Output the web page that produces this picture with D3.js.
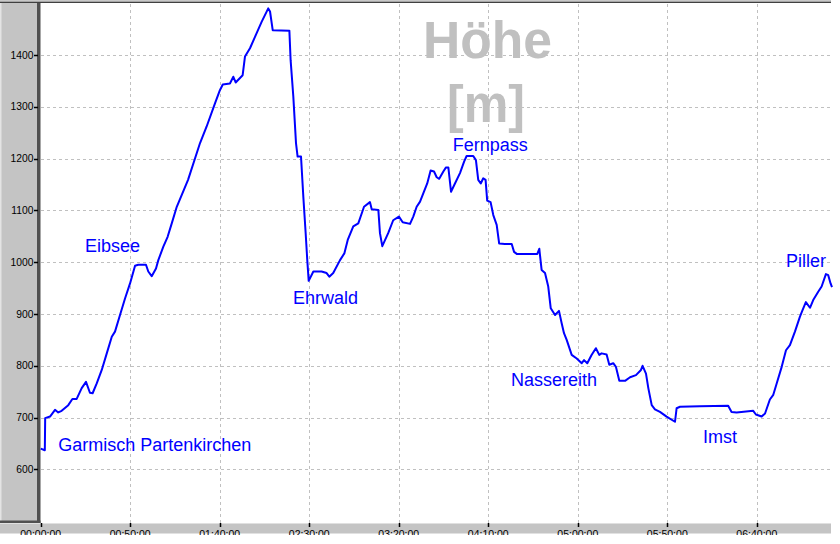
<!DOCTYPE html>
<html><head><meta charset="utf-8">
<script src="https://cdn.jsdelivr.net/npm/d3@7"></script>
<style>html,body{margin:0;padding:0;background:#fff;overflow:hidden}</style>
</head><body><svg id="c" width="840" height="544"></svg>
<script>
// elapsed time in minutes
const timeMin = [0,2.3,2.5,5.2,8.0,9.8,11.7,15.4,17.7,20.1,22.9,25.3,27.5,29.0,31.3,34.1,36.9,39.7,41.5,44.3,47.1,49.9,52.7,54.5,58.8,60.1,62.0,64.4,65.7,68.5,70.9,73.2,76.0,82.3,89.0,92.7,97.4,100.1,101.7,105.7,107.6,108.9,112.8,114.1,116.9,119.7,123.4,127.1,128.1,129.6,138.9,139.6,141.1,142.6,143.5,145.4,146.7,148.0,148.9,149.7,152.3,156.9,159.7,161.2,163.4,167.2,169.6,171.5,174.6,177.4,180.6,183.9,184.9,188.6,189.5,190.8,194.1,196.9,200.1,202.2,206.3,208.1,210.0,211.9,213.7,215.9,217.8,219.7,221.2,222.6,224.9,226.4,227.7,229.2,231.4,234.2,236.5,237.9,241.6,243.1,244.4,245.8,247.2,248.5,249.4,251.3,252.8,254.7,256.1,259.3,263.1,264.4,265.9,277.4,278.5,279.8,281.7,283.5,284.9,287.3,289.5,291.0,292.3,293.8,296.6,299.4,302.2,303.5,305.3,307.7,310.1,312.0,313.3,316.1,317.6,319.8,321.3,323.2,326.4,329.2,332.5,335.3,336.2,338.1,339.4,341.3,343.1,345.9,349.6,354.3,355.2,357.1,368.2,384.0,385.9,388.7,398.0,399.5,402.7,404.6,407.3,409.2,411.1,413.9,416.3,418.5,421.3,424.1,425.6,427.4,429.7,431.5,434.3,436.2,438.6,439.9,441.2,442.0];
// elevation in metres
const elevation = [640,637,699,702,715,710,713,724,736,736,757,769,748,747,766,792,824,856,866,898,930,959,993,995,995,982,973,988,1004,1030,1049,1075,1107,1159,1230,1262,1307,1332,1343,1345,1358,1347,1361,1397,1413,1435,1464,1490,1484,1448,1447,1390,1320,1230,1204,1204,1126,1056,1004,964,982,982,979,972,979,1004,1017,1043,1069,1075,1107,1116,1102,1101,1056,1031,1056,1081,1088,1077,1074,1088,1107,1117,1133,1152,1177,1175,1164,1161,1175,1183,1183,1136,1152,1172,1194,1205,1205,1197,1159,1152,1162,1159,1119,1116,1091,1072,1036,1035,1035,1020,1016,1016,1026,985,979,953,911,898,906,882,863,850,821,814,805,811,805,821,834,821,824,822,802,805,798,771,771,778,782,792,800,785,757,724,716,711,702,692,718,721,722,723,711,710,713,706,702,708,735,744,766,798,830,840,866,895,908,923,912,927,943,953,977,975,959,952];

const yTickValues = [600,700,800,900,1000,1100,1200,1300,1400];
const xTickValues = [0,50,100,150,200,250,300,350,400];

const placeNames = ["Garmisch Partenkirchen","Eibsee","Ehrwald","Fernpass","Nassereith","Imst","Piller"];
const placeTime  = [9.8,24.7,140.9,230.1,262.7,369.9,416.3];
const placeElev  = [636,1019,919,1215,761,651,991];

const titleLines = ["Höhe","[m]"];

const svg = d3.select("#c");
const W = 840, H = 544;
const plotL = 40, plotR = 831, plotT = 3, plotB = 523;

const x = d3.scaleLinear().domain([0,442]).range([40.7,832]);
const y = d3.scaleLinear().domain([500,1500]).range([521.2,3.2]);

const pad = n => String(n).padStart(2,"0");
const fmtTime = m => pad(Math.floor(m/60)) + ":" + pad(m%60) + ":00";

svg.append("defs").append("clipPath").attr("id","cl")
  .append("rect").attr("x",0).attr("y",0).attr("width",W).attr("height",535);

const root = svg.append("g").attr("clip-path","url(#cl)");

// top strip
root.append("rect").attr("x",0).attr("y",0).attr("width",plotR).attr("height",3).attr("fill","#c8c8c8");
root.append("line").attr("x1",0).attr("x2",plotR).attr("y1",2.5).attr("y2",2.5).attr("stroke","#404040").attr("stroke-width",1.5);

// plot background
root.append("rect").attr("x",plotL).attr("y",plotT).attr("width",plotR-plotL).attr("height",plotB-plotT).attr("fill","#fff");

// left panel
root.append("rect").attr("x",0).attr("y",3).attr("width",38).attr("height",plotB-3).attr("fill","#c4c4c4");
root.append("rect").attr("x",0).attr("y",3).attr("width",1.5).attr("height",plotB-3).attr("fill","#e4e4e4");
root.append("rect").attr("x",37).attr("y",3).attr("width",3.5).attr("height",plotB-3).attr("fill","#505050");
root.append("rect").attr("x",0).attr("y",520.5).attr("width",40.5).attr("height",2.5).attr("fill","#505050");

// bottom band
root.append("rect").attr("x",0).attr("y",523).attr("width",plotR).attr("height",10.5).attr("fill","#c4c4c4");
root.append("line").attr("x1",0).attr("x2",plotR).attr("y1",523.5).attr("y2",523.5).attr("stroke","#e0e0e0").attr("stroke-width",1);

// grid
const grid = root.append("g").attr("stroke","#c0c0c0").attr("stroke-width",1).attr("stroke-dasharray","3,3");
grid.selectAll("line.h").data(yTickValues).join("line")
  .attr("x1",plotL+1).attr("x2",plotR).attr("y1",d=>Math.round(y(d))+0.5).attr("y2",d=>Math.round(y(d))+0.5);
grid.selectAll("line.v").data(xTickValues.filter(d=>d>0)).join("line")
  .attr("y1",plotT+1).attr("y2",plotB).attr("x1",d=>Math.round(x(d))+0.5).attr("x2",d=>Math.round(x(d))+0.5);

// y ticks and labels
const yAx = root.append("g");
yAx.selectAll("line").data(yTickValues).join("line")
  .attr("x1",34).attr("x2",38).attr("y1",d=>Math.round(y(d))+0.5).attr("y2",d=>Math.round(y(d))+0.5)
  .attr("stroke","#000").attr("stroke-width",1.5);
yAx.selectAll("text").data(yTickValues).join("text")
  .attr("x",33.5).attr("y",d=>y(d)+3.6).attr("text-anchor","end")
  .attr("font-family","Liberation Sans, Arial, sans-serif").attr("font-size",10.3).attr("fill","#000")
  .text(d=>d);

// x ticks and labels
const xAx = root.append("g");
xAx.selectAll("line").data(xTickValues).join("line")
  .attr("x1",d=>Math.round(x(d))+0.5).attr("x2",d=>Math.round(x(d))+0.5).attr("y1",523).attr("y2",527)
  .attr("stroke","#000").attr("stroke-width",1.5);
xAx.selectAll("text").data(xTickValues).join("text")
  .attr("x",d=>x(d)).attr("y",538.3).attr("text-anchor","middle")
  .attr("font-family","Liberation Sans, Arial, sans-serif").attr("font-size",10.5).attr("fill","#000")
  .text(d=>fmtTime(d));

// title
const title = root.append("g").attr("font-family","Liberation Sans, Arial, sans-serif")
  .attr("font-weight","bold").attr("fill","#c0c0c0").attr("font-size",51).attr("text-anchor","middle");
title.append("text").attr("x",487.5).attr("y",58).attr("textLength",129).attr("lengthAdjust","spacingAndGlyphs").text(titleLines[0]);
title.append("text").attr("x",486).attr("y",121.5).attr("textLength",78).attr("lengthAdjust","spacingAndGlyphs").text(titleLines[1]);

// profile line
const line = d3.line().x((d,i)=>x(timeMin[i])).y(d=>y(d));
root.append("path").datum(elevation).attr("d",line)
  .attr("fill","none").attr("stroke","#0000ff").attr("stroke-width",2).attr("stroke-linejoin","round");

// place labels
root.append("g").selectAll("text").data(placeNames).join("text")
  .attr("x",(d,i)=>x(placeTime[i])).attr("y",(d,i)=>y(placeElev[i]))
  .attr("font-family","Liberation Sans, Arial, sans-serif").attr("font-size",18).attr("fill","#0000ff")
  .text(d=>d);
</script></body></html>
